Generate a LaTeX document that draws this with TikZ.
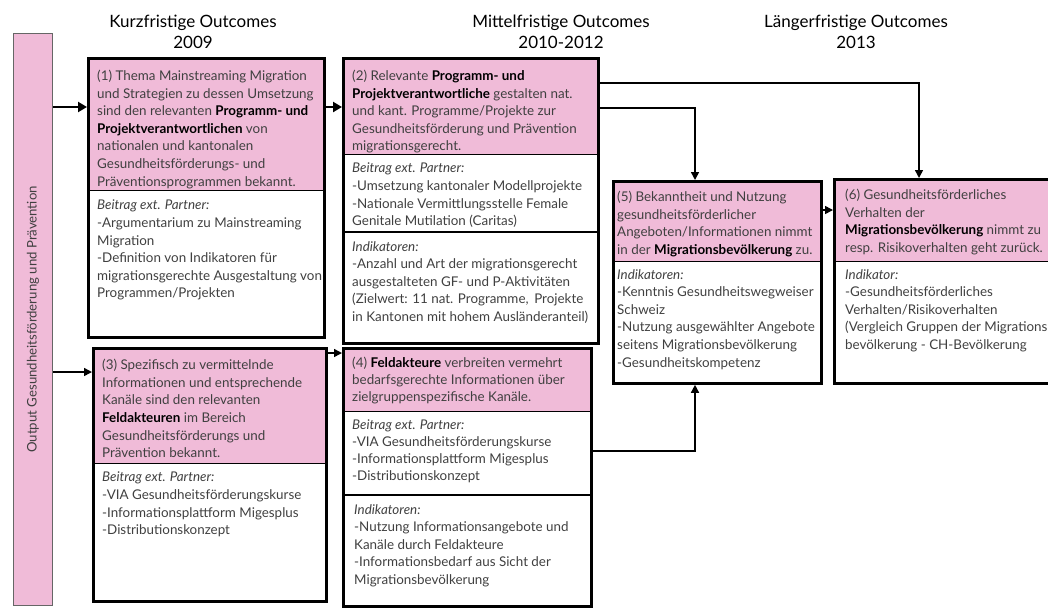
\documentclass[tikz,border=0pt]{standalone}
\usepackage{fontspec}
\setmainfont{Lato}
\usetikzlibrary{arrows.meta}
\definecolor{pinkfill}{RGB}{240,187,216}
\definecolor{txt}{RGB}{64,64,64}
\newcommand{\bk}[1]{\textcolor{black}{\textbf{#1}}}
\begin{document}
\begin{tikzpicture}[x=1pt,y=-1pt,
  outer/.style={draw=black, line width=2.8pt, inner sep=0pt, anchor=north west},
  pinkpart/.style={fill=pinkfill, draw=none, inner sep=0pt, anchor=north west},
  sep/.style={draw=black, line width=1.4pt},
  body/.style={anchor=north west, inner sep=0pt, align=left, text=txt, font=\fontsize{13.4}{17.6}\selectfont},
  title/.style={align=center, font=\fontsize{17}{21}\selectfont, text=black},
  thick arrow/.style={line width=2.8pt, -{Triangle[length=9pt,width=10pt]}},
  thin arrow/.style={line width=1.5pt, -{Triangle[length=8pt,width=8pt]}},
]
\useasboundingbox (0,0) rectangle (1048,614);

% titles
\node[title] (h1) at (193,32) {Kurzfristige Outcomes\\2009};
\node[title] (h2) at (561,32) {Mittelfristige Outcomes\\2010-2012};
\node[title] (h3) at (856,32) {Längerfristige Outcomes\\2013};

% left bar
\node[draw=black!60, line width=0.8pt, fill=pinkfill, minimum width=39pt, minimum height=572pt, anchor=north west, inner sep=0pt] (bar) at (13,33) {};
\node[rotate=90, text=txt, font=\fontsize{13.2}{15}\selectfont] (bart) at (bar.center) {Output Gesundheitsförderung und Prävention};

% ---------- box 1
\node[pinkpart, minimum width=236pt, minimum height=133pt] (b1h) at (87,57) {};
\node[outer, minimum width=236pt, minimum height=279pt] (b1) at (87,57) {};
\draw[sep] (b1h.south west) -- (b1h.south east);
\node[body] (b1t) at (97,70) {(1) Thema Mainstreaming Migration\\und Strategien zu dessen Umsetzung\\sind den relevanten \bk{Programm- und}\\\bk{Projektverantwortlichen} von\\nationalen und kantonalen\\Gesundheitsförderungs- und\\Präventionsprogrammen bekannt.};
\node[body] (b1b) at (97,200) {\textit{Beitrag ext. Partner:}\\-Argumentarium zu Mainstreaming\\Migration\\-Definition von Indikatoren für\\migrationsgerechte Ausgestaltung von\\Programmen/Projekten};

% ---------- box 2
\node[pinkpart, minimum width=255pt, minimum height=97pt] (b2h) at (342,57) {};
\node[outer, minimum width=255pt, minimum height=285pt] (b2) at (342,57) {};
\draw[sep] (b2h.south west) -- (b2h.south east);
\coordinate (s2) at (342,232);
\draw[sep] (s2) -- (s2 -| b2.east);
\node[body] (b2t) at (352,70) {(2) Relevante \bk{Programm- und}\\\bk{Projektverantwortliche} gestalten nat.\\und kant. Programme/Projekte zur\\Gesundheitsförderung und Prävention\\migrationsgerecht.};
\node[body] (b2b) at (352,163) {\textit{Beitrag ext. Partner:}\\-Umsetzung kantonaler Modellprojekte\\-Nationale Vermittlungsstelle Female\\Genitale Mutilation (Caritas)};
\node[body] (b2i) at (352,241) {\textit{Indikatoren:}\\-Anzahl und Art der migrationsgerecht\\ausgestalteten GF- und P-Aktivitäten\\(Zielwert: 11 nat. Programme,\, Projekte\\in Kantonen mit hohem Ausländeranteil)};

% ---------- box 3
\node[pinkpart, minimum width=233pt, minimum height=116pt] (b3h) at (92,347) {};
\node[outer, minimum width=233pt, minimum height=253pt] (b3) at (92,347) {};
\draw[sep] (b3h.south west) -- (b3h.south east);
\node[body] (b3t) at (102,359) {(3) Spezifisch zu vermittelnde\\Informationen und entsprechende\\Kanäle sind den relevanten\\\bk{Feldakteuren} im Bereich\\Gesundheitsförderungs und\\Prävention bekannt.};
\node[body] (b3b) at (102,472) {\textit{Beitrag ext. Partner:}\\-VIA Gesundheitsförderungskurse\\-Informationsplattform Migesplus\\-Distributionskonzept};

% ---------- box 4
\node[pinkpart, minimum width=248pt, minimum height=64pt] (b4h) at (342,347) {};
\node[outer, minimum width=248pt, minimum height=258pt] (b4) at (342,347) {};
\draw[sep] (b4h.south west) -- (b4h.south east);
\coordinate (s4) at (342,495);
\draw[sep] (s4) -- (s4 -| b4.east);
\node[body, font=\fontsize{13.4}{16.8}\selectfont] (b4t) at (352,357) {(4) \bk{Feldakteure} verbreiten vermehrt\\bedarfsgerechte Informationen über\\zielgruppenspezifische Kanäle.};
\node[body, font=\fontsize{13.4}{16.8}\selectfont] (b4b) at (352,420) {\textit{Beitrag ext. Partner:}\\-VIA Gesundheitsförderungskurse\\-Informationsplattform Migesplus\\-Distributionskonzept};
\node[body] (b4i) at (354,504) {\textit{Indikatoren:}\\-Nutzung Informationsangebote und\\Kanäle durch Feldakteure\\-Informationsbedarf aus Sicht der\\Migrationsbevölkerung};

% ---------- box 5
\node[pinkpart, minimum width=208pt, minimum height=81pt] (b5h) at (612,180) {};
\node[outer, minimum width=208pt, minimum height=202pt] (b5) at (612,180) {};
\draw[sep] (b5h.south west) -- (b5h.south east);
\node[body] (b5t) at (617,191) {(5) Bekanntheit und Nutzung\\gesundheitsförderlicher\\Angeboten/Informationen nimmt\\in der \bk{Migrationsbevölkerung} zu.};
\node[body] (b5i) at (617,269) {\textit{Indikatoren:}\\-Kenntnis Gesundheitswegweiser\\Schweiz\\-Nutzung ausgewählter Angebote\\seitens Migrationsbevölkerung\\-Gesundheitskompetenz};

% ---------- box 6
\node[pinkpart, minimum width=230pt, minimum height=83pt] (b6h) at (833,178) {};
\node[outer, minimum width=230pt, minimum height=204pt] (b6) at (833,178) {};
\draw[sep] (b6h.south west) -- (b6h.south east);
\node[body] (b6t) at (845,189) {(6) Gesundheitsförderliches\\Verhalten der\\\bk{Migrationsbevölkerung} nimmt zu\\resp. Risikoverhalten geht zurück.};
\node[body] (b6i) at (845,269) {\textit{Indikator:}\\-Gesundheitsförderliches\\Verhalten/Risikoverhalten\\(Vergleich Gruppen der Migrations\\bevölkerung - CH-Bevölkerung};

% ---------- connectors
\coordinate (y1) at (0,107);
\coordinate (y3) at (0,372);
\coordinate (y34) at (0,353);
\coordinate (y25) at (695,108);
\coordinate (y26) at (919,83);
\coordinate (y45) at (695,451);
\coordinate (y56) at (0,210);

\draw[thick arrow] (bar.east |- y1) -- (b1.west |- y1);
\draw[thick arrow] (b1.east |- y1) -- (b2.west |- y1);
\draw[thin arrow] (bar.east |- y3) -- (b3.west |- y3);
\draw[thin arrow] (b3.east |- y34) -- (b4.west |- y34);
\draw[thin arrow] (b2.east |- y25) -- (y25) -- (y25 |- b5.north);
\draw[thin arrow] (b2.east |- y26) -- (y26) -- (y26 |- b6.north);
\draw[thin arrow] (b4.east |- y45) -- (y45) -- (y45 |- b5.south);
\draw[thin arrow] (b5.east |- y56) -- (b6.west |- y56);
\end{tikzpicture}
\end{document}
